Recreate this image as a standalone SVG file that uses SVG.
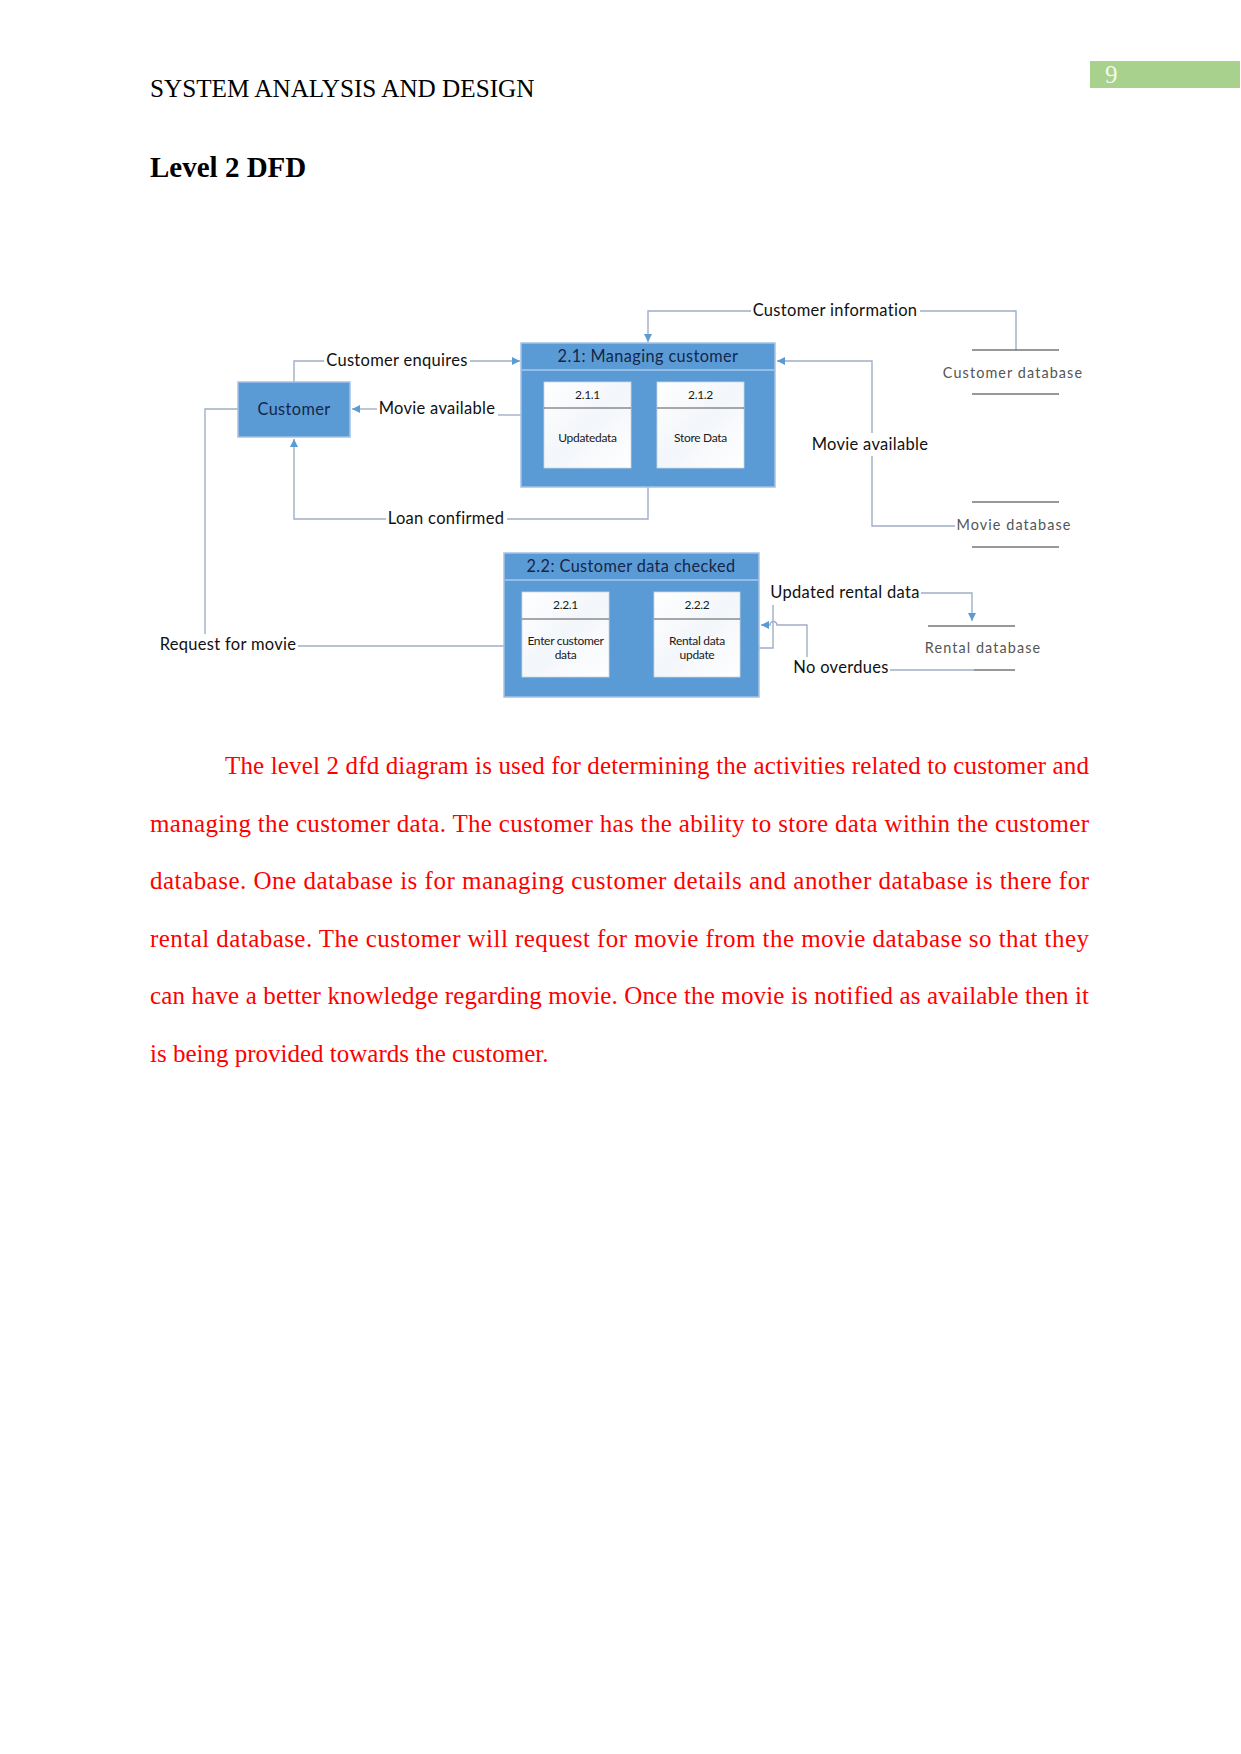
<svg xmlns="http://www.w3.org/2000/svg" width="1241" height="1754" viewBox="0 0 1241 1754">
<defs>
<style>
.hdr{font-family:"Liberation Serif",serif;font-size:25.2px;fill:#000}
.body{font-family:"Liberation Serif",serif;font-size:25px;fill:#FF0000}
.lbl{font-family:Lato,"Open Sans",sans-serif;font-size:16.5px;fill:#111;text-anchor:middle;letter-spacing:0.3px}
.store{font-family:Lato,"Open Sans",sans-serif;font-size:14.4px;fill:#555;text-anchor:middle;letter-spacing:1.1px}
.title{font-family:Lato,"Open Sans",sans-serif;font-size:16.3px;fill:#14264A;text-anchor:middle;letter-spacing:0.4px}
.sub{font-family:Lato,"Open Sans",sans-serif;font-size:12px;fill:#1a1a1a;text-anchor:middle;letter-spacing:-0.3px}
.proc{fill:#5B9BD5;stroke:#A4C2E6;stroke-width:1.5}
.subbox{fill:url(#g);stroke:#C9D6E6;stroke-width:0.8}
.sep{stroke:#A8C8EA;stroke-width:1.5}
.subsep{stroke:#555;stroke-width:1}
.conn{fill:none;stroke:#9FAFC6;stroke-width:1.4}
.dbline{stroke:#333;stroke-width:1.2}
</style>
<linearGradient id="g" x1="0" y1="0" x2="1" y2="1">
<stop offset="0" stop-color="#FFFFFF"/>
<stop offset="0.5" stop-color="#F3F6FA"/>
<stop offset="1" stop-color="#FFFFFF"/>
</linearGradient>
<marker id="arr" viewBox="0 0 10 10" refX="10" refY="5" markerWidth="9" markerHeight="8" markerUnits="userSpaceOnUse" orient="auto">
<path d="M0,0 L10,5 L0,10 z" fill="#5B9BD5"/>
</marker>
</defs>
<rect width="1241" height="1754" fill="#FFFFFF"/>

<!-- page header -->
<g id="header">
<text class="hdr" x="150" y="97">SYSTEM ANALYSIS AND DESIGN</text>
<rect x="1090" y="61" width="150" height="27" fill="#A9D18E"/>
<text x="1105" y="83" font-family="Liberation Serif,serif" font-size="25" fill="#F2F9E8">9</text>
<text x="150" y="177" font-family="Liberation Serif,serif" font-size="29" font-weight="bold" fill="#000">Level 2 DFD</text>
</g>

<!-- connectors -->
<g id="connectors">
<!-- Customer enquires -->
<path class="conn" d="M294,382 V361 H324 M470,361 H520" marker-end="url(#arr)"/>
<!-- Movie available (left) -->
<path class="conn" d="M521,415 H498"/>
<path class="conn" d="M377,409 H352" marker-end="url(#arr)"/>
<!-- Loan confirmed -->
<path class="conn" d="M648,487 V519 H507 M386,519 H294 V439" marker-end="url(#arr)"/>
<!-- Customer information -->
<path class="conn" d="M1016,350 V311 H920 M751,311 H648 V342" marker-end="url(#arr)"/>
<!-- Movie available (right) -->
<path class="conn" d="M955,526 H872 V456"/>
<path class="conn" d="M872,433 V361 H777" marker-end="url(#arr)"/>
<!-- Request for movie -->
<path class="conn" d="M238,409 H205 V634"/>
<path class="conn" d="M298,646 H504"/>
<!-- Updated rental data -->
<path class="conn" d="M759,648 H773 V605"/>
<path class="conn" d="M921,593 H972 V621" marker-end="url(#arr)"/>
<!-- No overdues -->
<path class="conn" d="M890,670 H974"/>
<path class="conn" d="M807,657 V625 H777 A3.5,3.5 0 0 0 770,625 H761" marker-end="url(#arr)"/>
</g>

<!-- Customer -->
<g id="customer">
<rect class="proc" x="238" y="382" width="112" height="55"/>
<text class="title" x="294" y="415">Customer</text>
</g>

<!-- 2.1 Managing customer -->
<g id="p21">
<rect class="proc" x="521" y="343" width="254" height="144"/>
<line class="sep" x1="522" y1="370" x2="774" y2="370"/>
<text class="title" x="648" y="362">2.1: Managing customer</text>
<g id="p211">
<rect class="subbox" x="544" y="382" width="87" height="86"/>
<line class="subsep" x1="544" y1="408" x2="631" y2="408"/>
<text class="sub" x="587.5" y="399">2.1.1</text>
<text class="sub" x="587.5" y="442">Updatedata</text>
</g>
<g id="p212">
<rect class="subbox" x="657" y="382" width="87" height="86"/>
<line class="subsep" x1="657" y1="408" x2="744" y2="408"/>
<text class="sub" x="700.5" y="399">2.1.2</text>
<text class="sub" x="700.5" y="442">Store Data</text>
</g>
</g>

<!-- 2.2 Customer data checked -->
<g id="p22">
<rect class="proc" x="504" y="553" width="255" height="144"/>
<line class="sep" x1="505" y1="580" x2="758" y2="580"/>
<text class="title" x="631" y="572">2.2: Customer data checked</text>
<g id="p221">
<rect class="subbox" x="522" y="592" width="87" height="85"/>
<line class="subsep" x1="522" y1="619" x2="609" y2="619"/>
<text class="sub" x="565.5" y="609">2.2.1</text>
<text class="sub" x="565.5" y="645">Enter customer</text>
<text class="sub" x="565.5" y="659">data</text>
</g>
<g id="p222">
<rect class="subbox" x="654" y="592" width="86" height="85"/>
<line class="subsep" x1="654" y1="619" x2="740" y2="619"/>
<text class="sub" x="697" y="609">2.2.2</text>
<text class="sub" x="697" y="645">Rental data</text>
<text class="sub" x="697" y="659">update</text>
</g>
</g>

<!-- data stores -->
<g id="customer-db">
<line class="dbline" x1="972" y1="350" x2="1059" y2="350"/>
<line class="dbline" x1="972" y1="394" x2="1059" y2="394"/>
<text class="store" x="1013" y="378">Customer database</text>
</g>
<g id="movie-db">
<line class="dbline" x1="972" y1="502" x2="1059" y2="502"/>
<line class="dbline" x1="972" y1="547" x2="1059" y2="547"/>
<text class="store" x="1014" y="530">Movie database</text>
</g>
<g id="rental-db">
<line class="dbline" x1="928" y1="626" x2="1015" y2="626"/>
<line class="dbline" x1="974" y1="670" x2="1015" y2="670"/>
<text class="store" x="983" y="653">Rental database</text>
</g>

<!-- connector labels -->
<g id="labels">
<text class="lbl" x="397" y="366">Customer enquires</text>
<text class="lbl" x="437" y="414">Movie available</text>
<text class="lbl" x="446" y="524">Loan confirmed</text>
<text class="lbl" x="835" y="316">Customer information</text>
<text class="lbl" x="870" y="450">Movie available</text>
<text class="lbl" x="845" y="598">Updated rental data</text>
<text class="lbl" x="841" y="673">No overdues</text>
<text class="lbl" x="228" y="650">Request for movie</text>
</g>

<!-- body text -->
<g id="body">
<text class="body" x="225" y="774" textLength="864" lengthAdjust="spacing">The level 2 dfd diagram is used for determining the activities related to customer and</text>
<text class="body" x="150" y="832" textLength="939" lengthAdjust="spacing">managing the customer data. The customer has the ability to store data within the customer</text>
<text class="body" x="150" y="889" textLength="939" lengthAdjust="spacing">database. One database is for managing customer details and another database is there for</text>
<text class="body" x="150" y="947" textLength="939" lengthAdjust="spacing">rental database. The customer will request for movie from the movie database so that they</text>
<text class="body" x="150" y="1004" textLength="939" lengthAdjust="spacing">can have a better knowledge regarding movie. Once the movie is notified as available then it</text>
<text class="body" x="150" y="1062">is being provided towards the customer.</text>
</g>
</svg>
